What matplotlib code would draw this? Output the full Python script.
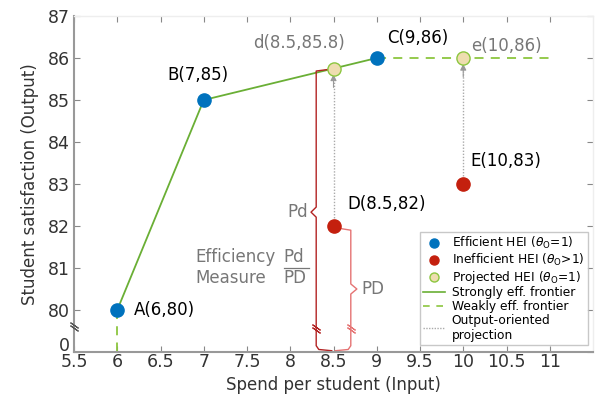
import matplotlib
matplotlib.use("Agg")
import matplotlib.pyplot as plt
from matplotlib.lines import Line2D

# ---- data ----
eff_names = ["A", "B", "C"]
eff_x = [6, 7, 9]
eff_y = [80, 85, 86]

ineff_names = ["D", "E"]
ineff_x = [8.5, 10]
ineff_y = [82, 83]

proj_names = ["d", "e"]
proj_x = [8.5, 10]
proj_y = [85.75, 86]

eff_labels = ["A(6,80)", "B(7,85)", "C(9,86)"]
ineff_labels = ["D(8.5,82)", "E(10,83)"]
proj_labels = ["d(8.5,85.8)", "e(10,86)"]

weak_x = [9, 11]
weak_y = [86, 86]

xticks = [5.5, 6, 6.5, 7, 7.5, 8, 8.5, 9, 9.5, 10, 10.5, 11]
xticklabels = ["5.5", "6", "6.5", "7", "7.5", "8", "8.5", "9", "9.5", "10", "10.5", "11"]
y_zero_pos = 79  # where the broken-axis "0" sits
yticks = [79, 80, 81, 82, 83, 84, 85, 86, 87]
yticklabels = ["", "80", "81", "82", "83", "84", "85", "86", "87"]
zero_label = "0"

BLUE = "#0072BD"
RED = "#C4200E"
TAN = "#EEDDB0"
GREEN = "#6AAF35"
LGREEN = "#8CC63F"
GRAY = "#777777"

fig = plt.figure(figsize=(5.95, 4.03), dpi=100)
ax = fig.add_axes([74/595, 1-352/403, 519/595, 336/403])
ax.set_xlim(5.5, 11.5)
ax.set_ylim(y_zero_pos, 87)

# frontier lines
ax.plot(eff_x, eff_y, color=GREEN, lw=1.3, zorder=2)
ax.plot(weak_x, weak_y, color=LGREEN, lw=1.3, ls=(0, (5, 4)), zorder=2)
ax.plot([eff_x[0], eff_x[0]], [eff_y[0], y_zero_pos], color=LGREEN, lw=1.3,
        ls=(0, (5, 4)), zorder=2)

# projection arrows (dotted)
for x0, y0, x1, y1 in zip(ineff_x, ineff_y, proj_x, proj_y):
    ax.plot([x0, x1], [y0 + 0.12, y1 - 0.3], color="#AAAAAA", lw=1.0,
            ls=(0, (1, 1.2)), zorder=2)
    ax.annotate("", xy=(x1, y1 - 0.14), xytext=(x1, y1 - 0.45),
                arrowprops=dict(arrowstyle="-|>", color="#999999", lw=0.8,
                                mutation_scale=9, shrinkA=0, shrinkB=0),
                zorder=3)

# efficiency-measure brackets
dx_ = ineff_x[0]
dy_ = ineff_y[0]
py = proj_y[0]
Pd_x = [dx_ - 0.05, dx_ - 0.2, dx_ - 0.2, dx_ - 0.26, dx_ - 0.2, dx_ - 0.2,
        dx_ - 0.17, dx_ - 0.02]
Pd_y = [py - 0.02, py - 0.06, 82.45, 82.33, 82.21, 79.15, 79.06, 79.03]
ax.plot(Pd_x, Pd_y, color="#B22222", lw=1.0, zorder=2, clip_on=False)
PD_x = [dx_ + 0.05, dx_ + 0.2, dx_ + 0.2, dx_ + 0.27, dx_ + 0.2, dx_ + 0.2,
        dx_ + 0.17, dx_ + 0.02]
PD_y = [dy_ - 0.05, dy_ - 0.1, 80.62, 80.5, 80.38, 79.15, 79.06, 79.03]
ax.plot(PD_x, PD_y, color="#E57373", lw=1.0, zorder=2, clip_on=False)

# break marks
def brk(x, y, color):
    for off in (-0.035, 0.035):
        ax.plot([x], [y + off], marker=(2, 2, 55), ms=7, mew=0.8, color=color,
                clip_on=False, zorder=4)

brk(dx_ - 0.2, 79.55, "#B22222")
brk(dx_ + 0.2, 79.55, "#E57373")
brk(5.5, 79.6, "#555555")

ax.text(dx_ - 0.3, 82.33, "Pd", color=GRAY, fontsize=12, ha="right", va="center")
ax.text(dx_ + 0.32, 80.5, "PD", color=GRAY, fontsize=12, ha="left", va="center")

# efficiency measure text
ax.text(6.9, 81.26, "Efficiency", color=GRAY, fontsize=12, ha="left", va="center")
ax.text(6.9, 80.76, "Measure", color=GRAY, fontsize=12, ha="left", va="center")
ax.text(7.92, 81.26, "Pd", color=GRAY, fontsize=12, ha="left", va="center")
ax.text(7.92, 80.76, "PD", color=GRAY, fontsize=12, ha="left", va="center")
ax.plot([7.93, 8.22], [81.0, 81.0], color=GRAY, lw=0.9)

# points
ax.plot(eff_x, eff_y, "o", color=BLUE, ms=9.5, zorder=5)
ax.plot(ineff_x, ineff_y, "o", color=RED, ms=9.5, zorder=5)
ax.plot(proj_x, proj_y, "o", mfc=TAN, mec=LGREEN, mew=1.0, ms=9.5, zorder=5)

k = 0.72
eff_off = [(17, 0, "left"), (-6, 25, "center"), (41, 20, "center")]
for x, y, lab, (ox, oy, ha) in zip(eff_x, eff_y, eff_labels, eff_off):
    ax.annotate(lab, (x, y), xytext=(ox*k, oy*k), textcoords="offset points",
                ha=ha, va="center", fontsize=12, color="black")
ineff_off = [(14, 22), (7, 23)]
for x, y, lab, (ox, oy) in zip(ineff_x, ineff_y, ineff_labels, ineff_off):
    ax.annotate(lab, (x, y), xytext=(ox*k, oy*k), textcoords="offset points",
                ha="left", va="center", fontsize=12, color="black")
proj_off = [(-34, 25, "center"), (8, 12, "left")]
for x, y, lab, (ox, oy, ha) in zip(proj_x, proj_y, proj_labels, proj_off):
    ax.annotate(lab, (x, y), xytext=(ox*k, oy*k), textcoords="offset points",
                ha=ha, va="center", fontsize=12, color=GRAY)

# axes styling
ax.set_xticks(xticks)
ax.set_xticklabels(xticklabels)
ax.set_yticks(yticks)
ax.set_yticklabels(yticklabels)
ax.tick_params(axis="both", direction="in", labelsize=12.5, colors="#333333",
               length=4, width=0.8)
ax.tick_params(axis="x", pad=1)
ax.tick_params(axis="y", pad=3)
ax.tick_params(axis="both", which="both", top=True, right=True)
ax.tick_params(axis="x", color="#888888")
ax.tick_params(axis="y", color="#888888")
ax.annotate(zero_label, xy=(0, y_zero_pos), xycoords=("axes fraction", "data"),
            xytext=(-3, 4.5), textcoords="offset points", ha="right",
            va="center", fontsize=12.5, color="#333333", annotation_clip=False)
for s in ["left", "bottom"]:
    ax.spines[s].set_color("#999999")
    ax.spines[s].set_linewidth(1.5)
for s in ["top", "right"]:
    ax.spines[s].set_color("#EEEEEE")
    ax.spines[s].set_linewidth(1.0)
ax.set_xlabel("Spend per student (Input)", fontsize=12, color="#333333", labelpad=3)
ax.set_ylabel("Student satisfaction (Output)", fontsize=12, color="#333333", labelpad=6)

handles = [
    Line2D([], [], ls="none", marker="o", color=BLUE, ms=6.5),
    Line2D([], [], ls="none", marker="o", color=RED, ms=6.5),
    Line2D([], [], ls="none", marker="o", mfc=TAN, mec=LGREEN, ms=6.5),
    Line2D([], [], color=GREEN, lw=1.2),
    Line2D([], [], color=LGREEN, lw=1.2, ls=(0, (4, 4))),
    Line2D([], [], color="#AAAAAA", lw=1.0, ls=(0, (1, 1))),
]
labels = [
    r"Efficient HEI ($\theta_\mathrm{O}$=1)",
    r"Inefficient HEI ($\theta_\mathrm{O}$>1)",
    r"Projected HEI ($\theta_\mathrm{O}$=1)",
    "Strongly eff. frontier",
    "Weakly eff. frontier",
    "Output-oriented\nprojection",
]
leg = ax.legend(handles, labels, loc="lower right", bbox_to_anchor=(0.99, 0.02),
                fontsize=8.8, frameon=True, fancybox=False, borderaxespad=0,
                handlelength=1.8, handletextpad=0.5, labelspacing=0.05,
                borderpad=0.3)
leg.get_frame().set_edgecolor("#BBBBBB")
leg.get_frame().set_linewidth(1.0)

fig.savefig("out.png", dpi=100)
